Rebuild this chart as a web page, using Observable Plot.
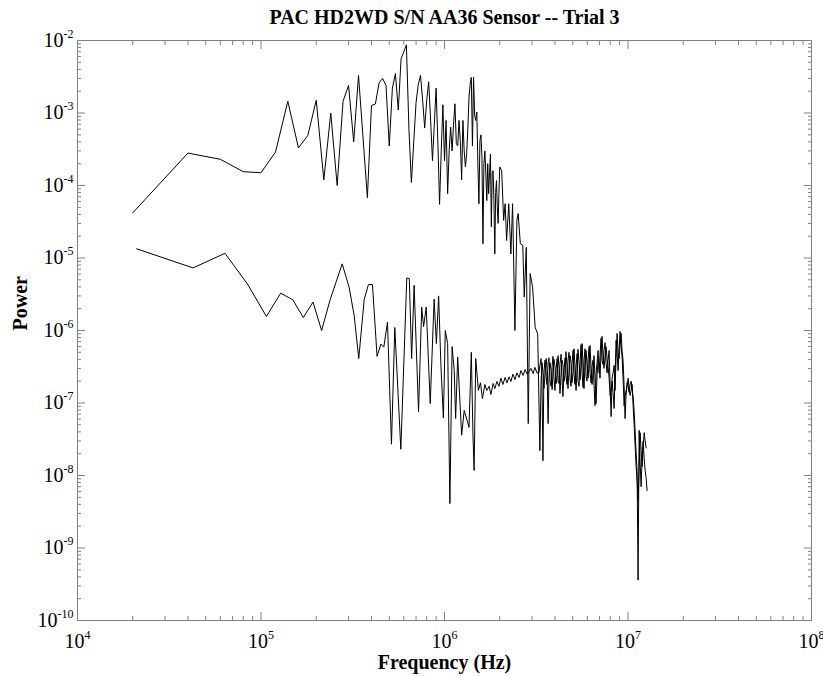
<!DOCTYPE html>
<html><head><meta charset="utf-8">
<script src="https://cdn.jsdelivr.net/npm/d3@7"></script>
<script src="https://cdn.jsdelivr.net/npm/@observablehq/plot@0.6"></script>
<style>html,body{margin:0;padding:0;background:#fff;} svg{display:block}</style>
</head><body><div id="chart"></div>
<script>
const title = "PAC HD2WD S/N AA36 Sensor -- Trial 3";
const xLabel = "Frequency (Hz)";
const yLabel = "Power";

const xMajorTicks = [1e4, 1e5, 1e6, 1e7, 1e8];
const xMinorTicks = [2e4,3e4,4e4,5e4,6e4,7e4,8e4,9e4, 2e5,3e5,4e5,5e5,6e5,7e5,8e5,9e5,
  2e6,3e6,4e6,5e6,6e6,7e6,8e6,9e6, 2e7,3e7,4e7,5e7,6e7,7e7,8e7,9e7];
const yMajorTicks = [1e-10, 1e-9, 1e-8, 1e-7, 1e-6, 1e-5, 1e-4, 1e-3, 1e-2];
const yMinorTicks = [2e-10,3e-10,4e-10,5e-10,6e-10,7e-10,8e-10,9e-10,
  2e-9,3e-9,4e-9,5e-9,6e-9,7e-9,8e-9,9e-9, 2e-8,3e-8,4e-8,5e-8,6e-8,7e-8,8e-8,9e-8,
  2e-7,3e-7,4e-7,5e-7,6e-7,7e-7,8e-7,9e-7, 2e-6,3e-6,4e-6,5e-6,6e-6,7e-6,8e-6,9e-6,
  2e-5,3e-5,4e-5,5e-5,6e-5,7e-5,8e-5,9e-5, 2e-4,3e-4,4e-4,5e-4,6e-4,7e-4,8e-4,9e-4,
  2e-3,3e-3,4e-3,5e-3,6e-3,7e-3,8e-3,9e-3];

// Upper trace (sensor signal) below the noise band, frequency in kHz
const upperFreqKHz = [
  20, 40, 60, 80, 100, 120, 140, 160, 180, 200,
  220, 240, 260, 280, 300, 320, 340, 380, 400, 420,
  440, 460, 480, 500, 520, 540, 560, 580, 600, 620,
  640, 660, 680, 700, 720, 740, 760, 780, 800, 820,
  840, 860, 880, 900, 920, 940, 960, 980, 1000, 1020,
  1040, 1060, 1080, 1100, 1120, 1140, 1160, 1180, 1200, 1220,
  1240, 1260, 1280, 1300, 1320, 1340, 1360, 1380, 1400, 1420,
  1440, 1460, 1480, 1500, 1520, 1540, 1560, 1580, 1600, 1620,
  1640, 1660, 1680, 1700, 1720, 1740, 1760, 1780, 1800, 1820,
  1840, 1860, 1880, 1900, 1920, 1940, 1960, 1980, 2000, 2050,
  2100, 2140, 2180, 2240, 2300, 2350, 2420, 2480, 2520, 2590,
  2670, 2720, 2790, 2860, 2930, 3020, 3120, 3220];
const upperPower = [
  4.2e-5, 2.8e-4, 2.3e-4, 1.55e-4, 1.5e-4, 2.9e-4, 1.45e-3, 3.3e-4, 4.9e-4, 1.5e-3,
  1.2e-4, 1.0e-3, 1.0e-4, 1.45e-3, 2.4e-3, 4.0e-4, 3.3e-3, 6.8e-5, 1.27e-3, 1.33e-3,
  2.6e-3, 3.0e-3, 2.4e-3, 3.5e-4, 2.2e-3, 3.5e-3, 1.1e-3, 5.6e-3, 7.0e-3, 8.7e-3,
  6.0e-4, 1.1e-4, 4.0e-4, 1.4e-3, 2.5e-3, 3.3e-3, 1.5e-3, 6.2e-4, 1.5e-3, 2.7e-3,
  8.0e-4, 2.2e-4, 7.0e-4, 2.2e-3, 4.0e-4, 5.5e-5, 3.0e-4, 1.3e-3, 2.2e-4, 7.9e-4,
  7.7e-5, 3.0e-4, 6.4e-4, 3.0e-4, 7.0e-4, 1.34e-3, 3.8e-4, 3.5e-4, 7.9e-4, 4.0e-4,
  1.2e-4, 7.9e-4, 3.0e-4, 1.8e-4, 2.7e-4, 6.0e-4, 1.65e-3, 2.5e-3, 3.1e-3, 3.5e-4,
  3.1e-3, 9.2e-4, 7.9e-4, 1.03e-3, 2.0e-4, 5.6e-5, 4.2e-4, 5.0e-4, 2.45e-4, 1.57e-5,
  2.0e-4, 3.0e-4, 1.5e-4, 6.2e-5, 2.0e-4, 7.7e-5, 1.5e-4, 2.7e-4, 2.7e-5, 1.5e-4,
  1.6e-4, 6.0e-5, 1.14e-5, 8.0e-5, 1.17e-4, 5.0e-5, 3.0e-5, 8.0e-5, 1.8e-4, 1.6e-4,
  3.3e-5, 5.6e-5, 1.74e-5, 5.6e-5, 1.14e-5, 5.6e-5, 1.0e-6, 3.3e-5, 4.1e-5, 1.57e-5,
  1.5e-5, 2.9e-6, 1.4e-5, 5.2e-8, 6.1e-6, 4.0e-6, 1.1e-6, 9.0e-7];

// Lower trace (noise floor) below the band, frequency in kHz
const lowerFreqKHz = [
  21, 42.6, 63.6, 84.3, 107, 128, 149, 170, 192, 214,
  238, 277, 302, 322, 341, 365, 385, 405, 429, 450,
  467, 489, 514, 536, 578, 623, 643, 662, 683, 722,
  751, 769, 795, 836, 878, 903, 929, 956, 986, 1010,
  1040, 1070, 1100, 1130, 1150, 1180, 1240, 1280, 1330, 1360,
  1400, 1430, 1450, 1480, 1530, 1570, 1610, 1660, 1700, 1750,
  1790, 1840, 1880, 1930, 1980, 2030, 2080, 2140, 2190, 2250,
  2300, 2360, 2420, 2480, 2550, 2610, 2680, 2750, 2820, 2890,
  2960, 3040, 3110, 3190];
const lowerPower = [
  1.34e-5, 7.3e-6, 1.16e-5, 4.4e-6, 1.56e-6, 3.27e-6, 2.66e-6, 1.51e-6, 2.47e-6, 1.0e-6,
  2.65e-6, 8.3e-6, 3.96e-6, 1.6e-6, 4.1e-7, 2.66e-6, 4.3e-6, 4.3e-6, 4.4e-7, 6.5e-7,
  5.9e-7, 1.3e-6, 2.7e-8, 1.1e-6, 2.3e-8, 5.3e-6, 5.2e-6, 4.1e-7, 4.2e-6, 7.6e-8,
  2.1e-6, 1.13e-6, 2.1e-6, 9.8e-8, 2.7e-6, 6.6e-7, 3.0e-6, 3.3e-7, 6.2e-8, 1.0e-6,
  6.6e-7, 4.1e-9, 6.0e-7, 2.8e-7, 6.1e-8, 4.3e-7, 3.6e-8, 7.9e-8, 5.7e-8, 4.6e-8,
  5.0e-7, 3.4e-8, 1.17e-8, 4.1e-7, 1.49e-7, 1.9e-7, 1.15e-7, 1.8e-7, 1.49e-7, 1.7e-7,
  1.31e-7, 1.86e-7, 1.58e-7, 1.98e-7, 1.7e-7, 2.2e-7, 1.8e-7, 2.25e-7, 1.9e-7, 2.3e-7,
  1.98e-7, 2.5e-7, 2.1e-7, 2.6e-7, 2.25e-7, 2.8e-7, 2.4e-7, 2.9e-7, 2.5e-7, 2.7e-7,
  3.0e-7, 2.55e-7, 3.1e-7, 2.6e-7];

// Dense noise band (3.3 MHz to 12.7 MHz), shared frequency grid in kHz
const bandFreqKHz = [
  3270, 3310, 3360, 3400, 3440, 3480, 3530, 3580, 3620, 3670,
  3710, 3760, 3810, 3860, 3900, 3950, 4000, 4060, 4110, 4160,
  4210, 4260, 4320, 4370, 4420, 4480, 4540, 4590, 4650, 4710,
  4770, 4830, 4890, 4950, 5020, 5080, 5140, 5210, 5280, 5340,
  5410, 5480, 5550, 5620, 5690, 5760, 5830, 5910, 5980, 6060,
  6140, 6210, 6290, 6370, 6450, 6530, 6610, 6700, 6780, 6870,
  6960, 7040, 7130, 7220, 7310, 7400, 7500, 7590, 7690, 7790,
  7890, 7990, 8090, 8190, 8290, 8400, 8500, 8610, 8720, 8830,
  8940, 9050, 9170, 9280, 9400, 9520, 9640, 9760, 9890, 10010,
  10140, 10270, 10400, 10530, 10660, 10800, 10930, 11070, 11210, 11350,
  11500, 11640, 11790, 11940, 12090, 12250, 12400, 12560, 12710];
// lower trace on bandFreqKHz[0..108]
const lowerBandPower = [
  2.6e-7, 3.3e-7, 4.1e-7, 1.74e-7, 1.6e-8, 2.6e-7, 3.9e-7, 2.3e-7, 1.8e-7, 3.6e-7,
  4.2e-7, 2.0e-7, 1.7e-7, 3.2e-7, 4.4e-7, 2.2e-7, 1.49e-7, 3.0e-7, 4.1e-7, 1.98e-7,
  1.86e-7, 3.5e-7, 4.7e-7, 2.25e-7, 1.23e-7, 2.8e-7, 4.2e-7, 2.4e-7, 1.8e-7, 3.9e-7,
  5.0e-7, 2.2e-7, 1.7e-7, 3.4e-7, 5.3e-7, 2.5e-7, 1.8e-7, 3.2e-7, 4.8e-7, 2.0e-7,
  1.7e-7, 3.6e-7, 6.4e-7, 2.6e-7, 1.64e-7, 3.9e-7, 5.6e-7, 2.3e-7, 2.0e-7, 4.1e-7,
  6.0e-7, 2.6e-7, 1.9e-7, 3.2e-7, 3.9e-7, 1.74e-7, 9.2e-8, 2.6e-7, 3.6e-7, 5.3e-7,
  2.6e-7, 4.5e-7, 7.8e-7, 3.9e-7, 3.4e-7, 5.3e-7, 6.8e-7, 3.6e-7, 2.6e-7, 3.9e-7,
  5.3e-7, 1.74e-7, 6.5e-8, 2.2e-7, 2.6e-7, 3.3e-7, 1.49e-7, 4.1e-7, 9.1e-7, 5.0e-7,
  4.1e-7, 6.2e-7, 9.1e-7, 5.3e-7, 3.9e-7, 1.74e-7, 6.1e-8, 1.27e-7, 1.9e-7, 1.7e-7,
  1.4e-7, 1.8e-7, 2.0e-7, 1.58e-7, 1.23e-7, 7.9e-8, 4.2e-8, 2.07e-8, 1.17e-8, 3.6e-10,
  4.2e-8, 1.5e-8, 7.0e-9, 1.9e-8, 3.0e-8, 1.7e-8, 1.17e-8, 9.1e-9, 6.2e-9];
// upper trace on bandFreqKHz[1..107]
const upperBandPower = [
  2.2e-8, 2.0e-7, 3.6e-7, 2.6e-7, 1.58e-7, 2.4e-7, 4.1e-7, 3.0e-7, 5.2e-8, 2.2e-7,
  3.6e-7, 2.8e-7, 1.53e-7, 2.6e-7, 4.0e-7, 3.2e-7, 1.86e-7, 2.4e-7, 4.5e-7, 3.0e-7,
  1.35e-7, 2.6e-7, 3.9e-7, 3.4e-7, 1.98e-7, 2.5e-7, 5.1e-7, 3.2e-7, 1.58e-7, 2.8e-7,
  4.5e-7, 3.6e-7, 1.9e-7, 2.7e-7, 5.6e-7, 3.2e-7, 1.49e-7, 3.0e-7, 5.5e-7, 3.6e-7,
  2.1e-7, 3.3e-7, 6.6e-7, 3.2e-7, 1.58e-7, 3.6e-7, 5.3e-7, 3.4e-7, 2.2e-7, 3.9e-7,
  6.2e-7, 3.0e-7, 1.8e-7, 2.8e-7, 4.5e-7, 2.2e-7, 9.8e-8, 2.4e-7, 3.9e-7, 3.2e-7,
  2.2e-7, 5.0e-7, 8.3e-7, 4.5e-7, 3.0e-7, 4.4e-7, 6.0e-7, 4.1e-7, 3.2e-7, 2.2e-7,
  1.27e-7, 1.49e-7, 2.0e-7, 1.4e-7, 8.4e-8, 2.4e-7, 7.3e-7, 5.0e-7, 2.8e-7, 5.3e-7,
  9.7e-7, 6.2e-7, 4.4e-7, 2.2e-7, 9.2e-8, 1.23e-7, 1.49e-7, 1.74e-7, 2.2e-7, 1.58e-7,
  1.27e-7, 1.49e-7, 1.8e-7, 9.2e-8, 5.0e-8, 2.6e-8, 1.33e-8, 8.5e-9, 4.5e-9, 1.17e-8,
  3.9e-8, 2.2e-8, 1.33e-8, 2.4e-8, 3.9e-8, 3.0e-8, 2.4e-8];

const rows = (fk, p) => p.map((v, i) => ({f: fk[i] * 1e3, p: v}));
const upper = rows(upperFreqKHz, upperPower).concat(rows(bandFreqKHz.slice(1), upperBandPower));
const lower = rows(lowerFreqKHz, lowerPower).concat(rows(bandFreqKHz, lowerBandPower));

const axisGray = "#808080";
const fmtPow = d => "10^" + Math.round(Math.log10(d));
const blank = () => "";

const plot = Plot.plot({
  width: 823, height: 676,
  marginLeft: 77, marginRight: 12, marginTop: 40, marginBottom: 56,
  style: {fontFamily: "'Liberation Serif', 'Times New Roman', serif", background: "#fff", color: "#000"},
  x: {type: "log", domain: [1e4, 1e8]},
  y: {type: "log", domain: [1e-10, 1e-2]},
  marks: [
    Plot.line(lower, {x: "f", y: "p", stroke: "#000", strokeWidth: 1}),
    Plot.line(upper, {x: "f", y: "p", stroke: "#000", strokeWidth: 1}),
    Plot.frame({stroke: axisGray}),
    // inward ticks on all four sides
    Plot.axisX(xMajorTicks, {anchor: "bottom", tickSize: -8, tickFormat: blank, stroke: axisGray, label: null}),
    Plot.axisX(xMinorTicks, {anchor: "bottom", tickSize: -4, tickFormat: blank, stroke: axisGray, label: null}),
    Plot.axisX(xMajorTicks, {anchor: "top", tickSize: -8, tickFormat: blank, stroke: axisGray, label: null}),
    Plot.axisX(xMinorTicks, {anchor: "top", tickSize: -4, tickFormat: blank, stroke: axisGray, label: null}),
    Plot.axisY(yMajorTicks, {anchor: "left", tickSize: -8, tickFormat: blank, stroke: axisGray, label: null}),
    Plot.axisY(yMinorTicks, {anchor: "left", tickSize: -4, tickFormat: blank, stroke: axisGray, label: null}),
    Plot.axisY(yMajorTicks, {anchor: "right", tickSize: -8, tickFormat: blank, stroke: axisGray, label: null}),
    Plot.axisY(yMinorTicks, {anchor: "right", tickSize: -4, tickFormat: blank, stroke: axisGray, label: null}),
    // tick labels
    Plot.axisX(xMajorTicks, {anchor: "bottom", tickSize: 0, tickPadding: 13, tickFormat: fmtPow, fontSize: 20, label: null}),
    Plot.axisY(yMajorTicks, {anchor: "left", tickSize: 0, tickPadding: 4, tickFormat: fmtPow, fontSize: 20, label: null}),
    // titles
    Plot.text([title], {frameAnchor: "top", text: d => d, dy: -23, lineAnchor: "middle", fontSize: 20, fontWeight: "bold"}),
    Plot.text([xLabel], {frameAnchor: "bottom", text: d => d, dy: 42, lineAnchor: "middle", fontSize: 20, fontWeight: "bold"}),
    Plot.text([yLabel], {frameAnchor: "left", text: d => d, dx: -57, rotate: -90, lineAnchor: "middle", fontSize: 20, fontWeight: "bold"})
  ]
});

// render "10^k" labels with superscript exponents
const NS = "http://www.w3.org/2000/svg";
plot.querySelectorAll('g[aria-label="x-axis tick label"], g[aria-label="y-axis tick label"]').forEach(g => g.setAttribute("font-size", "20"));
plot.querySelectorAll('g[aria-label="x-axis tick label"] text, g[aria-label="y-axis tick label"] text').forEach(t => {
  const s = t.textContent;
  const i = s.indexOf("^");
  if (i < 0) return;
  t.setAttribute("font-size", "20");
  t.textContent = "";
  const base = document.createElementNS(NS, "tspan");
  base.textContent = s.slice(0, i);
  const exp = document.createElementNS(NS, "tspan");
  exp.textContent = s.slice(i + 1);
  exp.setAttribute("font-size", "12");
  exp.setAttribute("dy", "-9");
  t.append(base, exp);
});
document.getElementById("chart").append(plot);
</script>
</body></html>
